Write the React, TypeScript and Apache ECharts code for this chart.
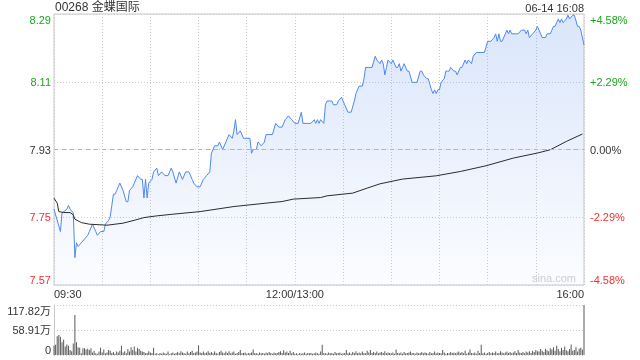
import React, { useEffect, useRef } from "react";
import * as echarts from "echarts";

const stockTitle = "00268 金蝶国际";
const stamp = "06-14 16:08";
const watermark = "sina.com";
const prevClose = 7.93;
const pctRange = 4.58;
const volumeMax = 117.82; // 万
const lastMinute = 330;
const xTickLabels: Record<number, string> = { 0: "09:30", 150: "12:00/13:00", 330: "16:00" };

// minutes since 09:30 (lunch break removed) and prices
const priceMinutes = [
  0, 4, 5, 8, 9, 10, 12, 13, 14, 15, 17, 19, 21, 22, 24, 26, 27, 29, 31, 32, 34, 35, 36, 37, 38, 39, 40, 41, 43, 45,
  46, 47, 49, 50, 52, 54, 55, 56, 57, 58, 59, 61, 62, 64, 65, 67, 69, 71, 73, 74, 76, 78, 80, 82, 84, 86, 87, 89, 91, 93,
  95, 97, 98, 100, 102, 103, 105, 107, 109, 111, 112, 113, 114, 116, 118, 120, 122, 123, 124, 126, 127, 129, 131, 132, 134, 136, 138, 140, 142, 144,
  146, 148, 150, 152, 154, 155, 157, 160, 162, 163, 164, 165, 166, 168, 169, 170, 173, 174, 176, 177, 179, 181, 183, 185, 187, 188, 190, 192, 193, 194,
  196, 198, 200, 201, 203, 204, 205, 206, 207, 208, 210, 211, 213, 214, 215, 216, 218, 220, 221, 223, 226, 228, 229, 230, 232, 233, 235, 236, 237, 238,
  239, 240, 241, 243, 244, 245, 246, 247, 249, 250, 251, 253, 254, 256, 257, 258, 260, 261, 263, 268, 270, 272, 274, 275, 276, 277, 278, 279, 281, 282,
  283, 284, 285, 288, 289, 291, 293, 294, 295, 296, 298, 300, 301, 303, 304, 306, 307, 309, 311, 312, 314, 315, 316, 317, 319, 320, 321, 323, 324, 326,
  327, 328, 330,
];
const prices = [
  7.77, 7.71, 7.76, 7.77, 7.78, 7.77, 7.76, 7.64, 7.68, 7.67, 7.68, 7.69, 7.7, 7.71, 7.73, 7.71, 7.7, 7.71, 7.71, 7.73, 7.74, 7.75, 7.78, 7.81, 7.81, 7.82, 7.83, 7.84, 7.82, 7.79,
  7.79, 7.82, 7.83, 7.84, 7.86, 7.85, 7.85, 7.8, 7.85, 7.8, 7.84, 7.85, 7.87, 7.88, 7.86, 7.87, 7.86, 7.86, 7.88, 7.87, 7.84, 7.87, 7.85, 7.87, 7.87, 7.85, 7.84, 7.83, 7.83, 7.85,
  7.86, 7.87, 7.92, 7.94, 7.94, 7.95, 7.93, 7.95, 7.97, 7.96, 7.98, 8.01, 7.97, 7.98, 7.96, 7.96, 7.96, 7.92, 7.93, 7.93, 7.95, 7.94, 7.95, 7.97, 7.97, 7.97, 8.0, 7.99, 7.99, 8.01,
  8.02, 8.01, 8.0, 8.0, 8.03, 8.0, 8.0, 8.0, 8.01, 8.0, 8.01, 8.0, 8.01, 8.0, 8.05, 8.06, 8.06, 8.05, 8.05, 8.06, 8.07, 8.05, 8.03, 8.03, 8.06, 8.08, 8.1, 8.1, 8.12, 8.15,
  8.15, 8.15, 8.18, 8.17, 8.16, 8.17, 8.16, 8.13, 8.15, 8.17, 8.16, 8.17, 8.15, 8.15, 8.16, 8.14, 8.16, 8.14, 8.14, 8.11, 8.11, 8.14, 8.14, 8.13, 8.12, 8.12, 8.09, 8.08, 8.09, 8.08,
  8.09, 8.09, 8.11, 8.12, 8.14, 8.14, 8.14, 8.15, 8.14, 8.14, 8.13, 8.15, 8.15, 8.17, 8.16, 8.17, 8.16, 8.18, 8.19, 8.19, 8.22, 8.22, 8.23, 8.24, 8.22, 8.24, 8.22, 8.22, 8.24, 8.25,
  8.24, 8.25, 8.24, 8.24, 8.24, 8.25, 8.25, 8.24, 8.25, 8.23, 8.24, 8.25, 8.26, 8.24, 8.23, 8.23, 8.24, 8.24, 8.26, 8.26, 8.28, 8.27, 8.28, 8.27, 8.28, 8.29, 8.28, 8.29, 8.29, 8.26,
  8.26, 8.25, 8.21,
];

// average price line
const avgMinutes = [0, 2, 3, 6, 10, 12, 13, 17, 22, 33, 43, 51, 56, 64, 74, 91, 112, 132, 142, 149, 166, 170, 186, 195, 203, 217, 238, 253, 269, 286, 301, 309, 319, 329];
const avgPrices = [
  7.7996, 7.7862, 7.7636, 7.761, 7.761, 7.7548, 7.7432, 7.7341, 7.7298, 7.7271, 7.7325, 7.7414, 7.7475, 7.7521, 7.7566, 7.7636, 7.7771,
  7.7862, 7.7905, 7.797, 7.8012, 7.8058, 7.8131, 7.8265, 7.838, 7.8507, 7.8595, 7.8711, 7.8864, 7.907, 7.9205, 7.9293, 7.9516, 7.9715,
];

// volume per minute, 万股 (minute 0 .. 330)
const volumes = [
  22, 24, 44, 47, 43, 30, 36, 20, 25, 22,
  12, 9, 27, 94, 30, 18, 17, 4, 16, 16,
  13, 15, 12, 16, 6, 10, 4, 3, 8, 17,
  6, 13, 4, 6, 12, 10, 5, 7, 3, 8,
  6, 10, 22, 6, 9, 4, 14, 8, 18, 12,
  20, 8, 17, 14, 10, 8, 7, 4, 5, 9,
  6, 5, 17, 3, 4, 2, 5, 3, 6, 4,
  3, 8, 2, 4, 6, 3, 5, 7, 4, 9,
  6, 5, 3, 8, 4, 7, 10, 5, 6, 8,
  23, 6, 5, 8, 4, 6, 9, 5, 7, 4,
  8, 5, 3, 7, 10, 6, 4, 8, 5, 9,
  4, 6, 8, 3, 5, 7, 12, 4, 5, 6,
  3, 5, 4, 6, 13, 5, 4, 3, 6, 4,
  5, 3, 6, 4, 7, 5, 3, 6, 4, 5,
  7, 9, 5, 11, 6, 8, 5, 10, 4, 7,
  3, 4, 2, 5, 3, 4, 6, 3, 5, 4,
  5, 3, 4, 6, 4, 3, 8, 24, 5, 4,
  3, 6, 4, 5, 3, 7, 4, 5, 6, 3,
  4, 5, 12, 4, 6, 3, 7, 5, 9, 4,
  6, 4, 8, 5, 4, 10, 6, 12, 5, 7,
  5, 8, 4, 6, 7, 5, 9, 4, 6, 5,
  4, 6, 3, 13, 5, 4, 6, 3, 7, 4,
  5, 6, 8, 4, 5, 3, 6, 4, 5, 7,
  4, 6, 5, 3, 7, 4, 5, 8, 4, 6,
  5, 4, 12, 6, 3, 5, 4, 7, 5, 6,
  4, 6, 8, 5, 7, 4, 10, 3, 6, 13,
  5, 4, 6, 3, 10, 5, 24, 4, 6, 3,
  5, 7, 4, 6, 5, 8, 4, 5, 9, 6,
  4, 6, 8, 5, 7, 4, 6, 9, 5, 12,
  6, 5, 7, 4, 8, 6, 9, 5, 10, 7,
  12, 9, 8, 14, 10, 7, 15, 11, 9, 16,
  13, 18, 10, 22, 14, 9, 17, 12, 20, 11,
  9, 14, 25, 10, 12, 18, 8, 15, 17, 13,
  117.82,
];

const GREEN = "#1ca51c";
const RED = "#f53030";
const DARK = "#333333";
const BLUE = "#4f88ee";
const GRIDC = "#cccccc";
const FONT = 'Arial, "Liberation Sans", "Noto Sans CJK SC", sans-serif';

const toPct = (p: number) => (p / prevClose - 1) * 100;
const signColor = (v: any) => {
  const n = Number(v);
  if (Math.abs(n) < 1e-6) return DARK;
  return n > 0 ? GREEN : RED;
};

export default function App() {
  const ref = useRef<HTMLDivElement>(null);
  useEffect(() => {
    if (!ref.current) return;
    const chart = echarts.init(ref.current, null, { renderer: "svg" });
    const option: any = {
      animation: false,
      textStyle: { fontFamily: FONT },
      grid: [
        { left: 54, right: 56, top: 14, height: 271, show: true, borderColor: "#c8c8c8", borderWidth: 1 },
        { left: 54, right: 56, top: 305, height: 50 },
      ],
      xAxis: [
        {
          type: "value",
          gridIndex: 0,
          min: 0,
          max: lastMinute,
          interval: 30,
          axisLine: { show: false },
          axisTick: { show: false },
          splitLine: { show: true, lineStyle: { color: GRIDC, type: [1, 2], width: 1 } },
          axisLabel: {
            show: true,
            formatter: (v: number) => xTickLabels[Math.round(v)] ?? "",
            color: DARK,
            fontSize: 11,
            margin: 3,
            showMinLabel: true,
            showMaxLabel: true,
            alignMinLabel: "left",
            alignMaxLabel: "right",
          },
        },
        {
          type: "value",
          gridIndex: 1,
          min: 0,
          max: lastMinute,
          axisLine: { show: false },
          axisTick: { show: false },
          axisLabel: { show: false },
          splitLine: { show: false },
        },
      ],
      yAxis: [
        {
          type: "value",
          gridIndex: 0,
          position: "left",
          min: -pctRange,
          max: pctRange,
          interval: pctRange / 2,
          axisLine: { show: false },
          axisTick: { show: false },
          splitLine: { show: true, lineStyle: { color: GRIDC, type: [1, 2], width: 1 } },
          axisLabel: {
            fontSize: 11,
            margin: 3,
            color: signColor,
            formatter: (v: number) => (prevClose * (1 + v / 100)).toFixed(2),
            verticalAlignMaxLabel: "top",
            verticalAlignMinLabel: "bottom",
          },
        },
        {
          type: "value",
          gridIndex: 0,
          position: "right",
          min: -pctRange,
          max: pctRange,
          interval: pctRange / 2,
          axisLine: { show: false },
          axisTick: { show: false },
          splitLine: { show: false },
          axisLabel: {
            fontSize: 11,
            margin: 6,
            color: signColor,
            formatter: (v: number) => {
              const n = Math.abs(v) < 1e-6 ? 0 : v;
              return (n > 0 ? "+" : "") + n.toFixed(2) + "%";
            },
            verticalAlignMaxLabel: "top",
            verticalAlignMinLabel: "bottom",
          },
        },
        {
          type: "value",
          gridIndex: 1,
          min: 0,
          max: volumeMax,
          interval: volumeMax / 2,
          axisLine: { show: true, lineStyle: { color: "#c8c8c8" } },
          axisTick: { show: false },
          splitLine: { show: true, lineStyle: { color: GRIDC, type: [1, 2], width: 1 } },
          axisLabel: {
            fontSize: 11,
            margin: 3,
            color: DARK,
            formatter: (v: number) => (v < 1e-6 ? "0" : v.toFixed(2) + "万"),
            verticalAlignMaxLabel: "top",
            verticalAlignMinLabel: "bottom",
          },
        },
      ],
      graphic: [
        { type: "text", left: 55, top: 1, style: { text: stockTitle, fontSize: 12, fill: DARK, fontFamily: FONT } },
        { type: "text", right: 56, top: 2, style: { text: stamp, fontSize: 11, fill: DARK, fontFamily: FONT } },
        { type: "text", left: 532, top: 272, style: { text: watermark, fontSize: 11, fill: "#cfcfcf", fontFamily: FONT } },
      ],
      series: [
        {
          type: "line",
          xAxisIndex: 0,
          yAxisIndex: 0,
          data: priceMinutes.map((m, i) => [m, toPct(prices[i])]),
          showSymbol: false,
          symbol: "none",
          lineStyle: { color: BLUE, width: 1 },
          areaStyle: {
            origin: "start",
            color: new echarts.graphic.LinearGradient(0, 0, 0, 1, [
              { offset: 0, color: "rgba(79,136,238,0.30)" },
              { offset: 1, color: "rgba(79,136,238,0.03)" },
            ]),
          },
          markLine: {
            silent: true,
            symbol: "none",
            label: { show: false },
            lineStyle: { color: "#eea47a", type: [4, 4], width: 1 },
            data: [{ yAxis: 0 }],
          },
          z: 3,
        },
        {
          type: "line",
          xAxisIndex: 0,
          yAxisIndex: 0,
          data: avgMinutes.map((m, i) => [m, toPct(avgPrices[i])]),
          showSymbol: false,
          symbol: "none",
          lineStyle: { color: "#2b2b2b", width: 1 },
          z: 4,
        },
        {
          type: "bar",
          xAxisIndex: 1,
          yAxisIndex: 2,
          data: volumes.map((v, i) => [i, v]),
          barWidth: 1,
          itemStyle: { color: "#5a5a5a" },
        },
      ],
    };
    chart.setOption(option);
    return () => chart.dispose();
  }, []);
  return <div ref={ref} style={{ position: "fixed", left: 0, top: 0, width: 640, height: 360 }} />;
}
